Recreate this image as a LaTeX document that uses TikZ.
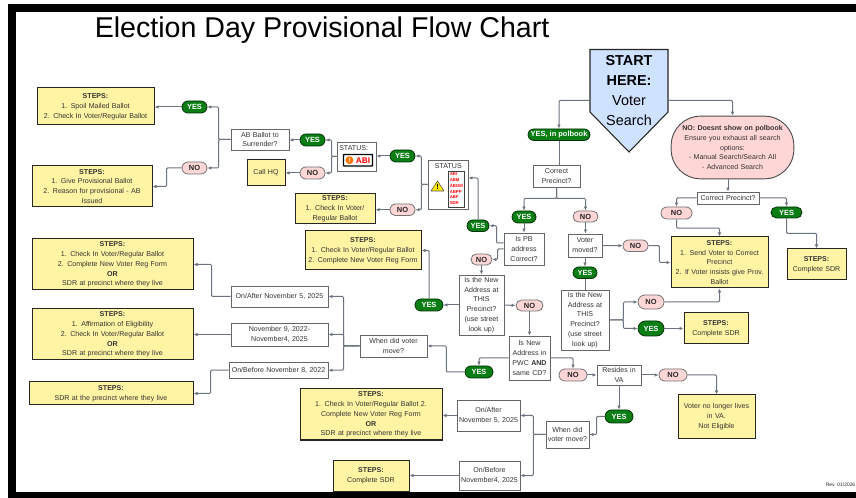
\documentclass[tikz,border=0pt]{standalone}
\usepackage{fontspec}
\setmainfont{Liberation Sans}
\usetikzlibrary{arrows.meta,shapes.misc,calc}
\definecolor{stepfill}{HTML}{FFF4A3}
\definecolor{linec}{HTML}{6B7280}
\definecolor{yesgreen}{HTML}{0A7D14}
\definecolor{nop}{HTML}{FFD6D6}
\definecolor{bodyc}{HTML}{333333}
\definecolor{startblue}{HTML}{CFE2FF}
\newcommand{\bx}[7][]{%
  \pgfmathsetmacro{\cxx}{(#4+#5)/2}\pgfmathsetmacro{\cyy}{(#6+#7)/2}%
  \pgfmathsetmacro{\wdd}{(#5-#4)*0.75}\pgfmathsetmacro{\htt}{(#7-#6)*0.75}%
  \pgfmathsetmacro{\twd}{\wdd-2}%
  \node[#1,minimum width=\wdd pt,minimum height=\htt pt,text width=\twd pt] (#2) at (\cxx,\cyy) {#3};}
\newcommand{\pill}[6]{%
  \pgfmathsetmacro{\cxx}{(#3+#4)/2}\pgfmathsetmacro{\cyy}{(#5+#6)/2}%
  \pgfmathsetmacro{\wdd}{(#4-#3)*0.75}\pgfmathsetmacro{\htt}{(#6-#5)*0.75}%
  \ifnum\pdfstrcmp{#1}{n}=0\node[nopill,minimum width=\wdd pt,minimum height=\htt pt] (#2) at (\cxx,\cyy) {NO};%
  \else\node[yespill,minimum width=\wdd pt,minimum height=\htt pt] (#2) at (\cxx,\cyy) {YES};\fi}
\tikzset{
  base/.style={inner sep=0pt,align=center,text=bodyc,font=\fontsize{5.3}{7.4}\selectfont},
  stepbox/.style={base,draw=black!85,line width=0.75pt,fill=stepfill},
  ask/.style={base,draw=black!60,line width=0.65pt,fill=white},
  yespill/.style={rounded rectangle,inner sep=0pt,draw=black!60!yesgreen,line width=0.6pt,fill=yesgreen,text=white,font=\fontsize{5.6}{6}\selectfont\bfseries},
  nopill/.style={rounded rectangle,inner sep=0pt,draw=black!55,line width=0.6pt,fill=nop,text=black!85,font=\fontsize{5.6}{6}\selectfont\bfseries},
  conn/.style={draw=linec,line width=0.75pt,rounded corners=0.8pt},
  arr/.style={conn,-{Latex[length=3pt,width=2.6pt]}},
  abitext/.style={inner sep=0pt,anchor=west,text=red,font=\fontsize{3.2}{3.4}\selectfont\bfseries}
}
\begin{document}
\begin{tikzpicture}[x=0.75pt,y=-0.75pt]
\useasboundingbox (0,0) rectangle (856,498);
\fill[white] (0,0) rectangle (856,498);
\fill[black] (8,4.5) rectangle (856,12.3);
\fill[black] (8,4.5) rectangle (15.7,498);
\fill[black] (8,492.3) rectangle (856,498);

\node[inner sep=0pt,anchor=base west,text=black,font=\fontsize{21.45}{24}\selectfont] (title) at (94.5,38) {Election Day Provisional Flow Chart};

% start shape
\draw[fill=startblue,draw=black!85,line width=0.8pt] (590,49.5) -- (668,49.5) -- (668,112) -- (629,152) -- (590,112) -- cycle;
\bx[base,font=\fontsize{10.8}{14.9}\selectfont,text=black]{start}{\textbf{START}\\\textbf{HERE:}\\Voter\\Search\\~}{590}{668}{49}{152}

\node[yespill,minimum width=46.5pt,minimum height=8.6pt] (yespoll) at (559,134.7) {YES, in polbook};
\node[base,draw=black!70,line width=0.7pt,fill=nop,rounded corners=22pt,minimum width=92pt,minimum height=47pt,text width=88pt] (nocloud) at (732.5,147.5) {\textbf{NO: Doesnt show on polbook}\\Ensure you exhaust all search\\options:\\- Manual Search/Search All\\- Advanced Search};

\bx[stepbox]{s1}{\textbf{STEPS:}\\1. Spoil Mailed Ballot\\2. Check In Voter/Regular Ballot}{37}{154}{88}{125}
\bx[stepbox]{s2}{\textbf{STEPS:}\\1. Give Provisional Ballot\\2. Reason for provisional - AB\\Issued}{32}{152}{166}{207}
\pill{y}{yesa}{182}{207}{101}{113}
\pill{n}{noa}{182}{207}{162}{174}
\bx[ask]{ab}{AB Ballot to\\Surrender?}{231}{289}{129}{150}
\pill{y}{yesb}{300}{325}{134}{146}
\pill{n}{nob}{300}{325}{167}{179}
\bx[stepbox]{hq}{Call HQ}{247}{285}{160}{186}
\bx[ask]{abi}{}{337}{376}{142}{171}
\pill{y}{yesc}{390}{415}{150}{162}
\pill{n}{noc}{390}{415}{204}{215.5}
\bx[stepbox]{s3}{\textbf{STEPS:}\\1. Check In Voter/\\Regular Ballot}{295}{375}{194}{224}
\bx[ask]{status}{}{428}{468}{160}{209}
\bx[stepbox]{s4}{\textbf{STEPS:}\\1. Check In Voter/Regular Ballot\\2. Complete New Voter Reg Form}{305}{421}{231}{270}
\pill{y}{yespb}{467}{489}{220}{231.5}
\bx[stepbox]{l1}{\textbf{STEPS:}\\1. Check In Voter/Regular Ballot\\2. Complete New Voter Reg Form\\\textbf{OR}\\SDR at precinct where they live}{32}{193}{239}{290}
\bx[stepbox]{l2}{\textbf{STEPS:}\\1. Affirmation of Eligibility\\2. Check In Voter/Regular Ballot\\\textbf{OR}\\SDR at precinct where they live}{32}{193}{309}{360}
\bx[stepbox]{l3}{\textbf{STEPS:}\\SDR at the precinct where they live}{29}{193}{382}{405}
\bx[ask]{after}{On/After November 5, 2025}{231}{328}{286}{307}
\bx[ask]{nov}{November 9, 2022-\\November4, 2025}{231}{328}{323}{346}
\bx[ask]{before}{On/Before November 8, 2022}{229}{328}{362}{378.5}
\bx[ask]{whena}{When did voter\\move?}{360}{427}{335}{357}
\bx[stepbox]{s5}{\textbf{STEPS:}\\1. Check In Voter/Regular Ballot 2.\\Complete New Voter Reg Form\\\textbf{OR}\\SDR at precinct where they live}{300}{442}{389}{440}
\bx[stepbox]{s6}{\textbf{STEPS:}\\Complete SDR}{333}{409}{460}{491}
\bx[ask]{ispb}{Is PB\\address\\Correct?}{504}{544}{233}{265}
\pill{n}{nopb}{471}{492}{254}{265}
\bx[ask]{newa}{Is the New\\Address at\\THIS\\Precinct?\\(use street\\look up)}{459}{504}{275}{335}
\pill{y}{yesd}{415}{443}{299}{311}
\pill{n}{nod}{516}{543}{300}{311}
\bx[ask]{pwc}{Is New\\Address in\\PWC \textbf{AND}\\same CD?}{509}{550}{336}{380}
\pill{y}{yese}{465}{493}{366}{378}
\pill{n}{noe}{559}{587}{369}{381}
\bx[ask]{va}{Resides in\\VA}{597}{641}{365}{385}
\pill{n}{nof}{659}{687}{369}{381}
\bx[stepbox]{gone}{Voter no longer lives\\in VA.\\Not Eligible}{678}{755}{395}{439}
\pill{y}{yesf}{605}{633}{410}{423}
\bx[ask]{whenb}{When did\\voter move?}{546}{589}{421}{448}
\bx[ask]{afterb}{On/After\\November 5, 2025}{457}{520}{400}{431}
\bx[ask]{beforeb}{On/Before\\November4, 2025}{459}{520}{461}{490}
\bx[ask]{moved}{Voter\\moved?}{568}{602}{234}{257}
\pill{n}{nog}{623}{648}{240}{251.5}
\pill{y}{yesg}{573}{597}{267}{278.5}
\bx[ask]{newb}{Is the New\\Address at\\THIS\\Precinct?\\(use street\\look up)}{561}{609}{290}{350}
\pill{n}{noh}{638}{664}{295}{309}
\pill{y}{yesh}{638}{664}{321}{336}
\bx[stepbox]{s7}{\textbf{STEPS:}\\Complete SDR}{684}{748}{313}{344}
\bx[stepbox]{send}{\textbf{STEPS:}\\1. Send Voter to Correct\\Precinct\\2. If Voter insists give Prov.\\Ballot}{671}{768}{237}{288}
\bx[stepbox]{s8}{\textbf{STEPS:}\\Complete SDR}{787}{846}{249}{280}
\bx[ask]{preca}{Correct\\Precinct?}{533}{580}{165}{187}
\pill{y}{yesi}{512}{536}{211}{223}
\pill{n}{noi}{573}{598}{211}{222}
\bx[ask]{precb}{Correct Precinct?}{697}{759}{192}{204}
\pill{n}{noj}{661}{692}{207}{219}
\pill{y}{yesj}{771}{802}{207}{218}

% ABI badge
\node[base,anchor=west,text=bodyc] (abilabel) at (339,147.7) {STATUS:};
\draw[fill=white,draw=black,line width=1pt,rounded corners=0.5pt] (343.5,154.5) rectangle (372.5,166);
\fill[orange!90!red] (349.5,160.2) circle (3.9);
\node[inner sep=0pt,text=white,font=\fontsize{4.5}{5}\selectfont\bfseries] (abimark) at (349.5,160.2) {!};
\node[inner sep=0pt,text=red,font=\fontsize{6.2}{7}\selectfont\bfseries] (abiname) at (363,160.3) {ABI};

% STATUS list
\node[base] (statuslabel) at (448.3,165.7) {STATUS};
\draw[fill=white,draw=black!75,line width=0.7pt] (448,171) rectangle (464,207);
\node[abitext] (la) at (449.5,174) {ABI};
\node[abitext] (lb) at (449.5,179.7) {ABM};
\node[abitext] (lc) at (449.5,185.7) {ABOM};
\node[abitext] (ld) at (449.5,191.7) {ABPP};
\node[abitext] (le) at (449.5,197.3) {ABF};
\node[abitext] (lf) at (449.5,203.3) {SDR};
\draw[fill=yellow!95!orange,draw=black!70,line width=0.4pt,line join=round] (437.5,181) -- (444,191) -- (431,191) -- cycle;
\node[inner sep=0pt,text=black,font=\fontsize{5.5}{6}\selectfont\bfseries] (warnmark) at (437.5,187.3) {!};

\node[inner sep=0pt,text=black!85,font=\rmfamily\fontsize{3.7}{4}\selectfont,anchor=east] (rev) at (855.5,484.7) {Rev. 01/2026};

% connectors
\draw[arr] (start.west) -| (yespoll.north);
\draw[arr] (start.east) -| (nocloud.north);
\draw[conn] (yespoll.south) -- (yespoll.south |- preca.north);
\draw[arr] (preca.south) -- ++(0,11) -| (yesi.north);
\draw[arr] (preca.south) -- ++(0,11) -| (noi.north);
\draw[arr] (yesi.south) -- (yesi.south |- ispb.north);
\draw[arr] (noi.south) -- (noi.south |- moved.north);
\draw[arr] ([yshift=4.5pt]ispb.west) -- ++(-7,0) |- (yespb.east);
\draw[arr] (ispb.west) -- ++(-6,0) |- (nopb.east);
\draw[arr] (yespb.north) |- ([yshift=4.9pt]status.east);
\draw[arr] (status.west) -- ++(-6.3,0) |- (yesc.east);
\draw[arr] (status.west) -- ++(-6.3,0) |- (noc.east);
\draw[arr] (yesc.west) -- (yesc.west -| abi.east);
\draw[arr] (noc.west) -- (noc.west -| s3.east);
\draw[arr] (abi.west) -- ++(-5,0) |- (yesb.east);
\draw[arr] (abi.west) -- ++(-5,0) |- (nob.east);
\draw[arr] (yesb.west) -- (yesb.west -| ab.east);
\draw[arr] (nob.west) -- (nob.west -| hq.east);
\draw[arr] (ab.west) -- ++(-12,0) |- (yesa.east);
\draw[arr] (ab.west) -- ++(-12,0) |- (noa.east);
\draw[arr] (yesa.west) -- (yesa.west -| s1.east);
\draw[arr] (noa.west) -- ++(-15,0) |- (s2.east);
\draw[arr] (nopb.south) -- (nopb.south |- newa.north);
\draw[arr] (newa.west) -- (yesd.east);
\draw[arr] (newa.east) -- (nod.west);
\draw[arr] (nod.south) -- (nod.south |- pwc.north);
\draw[arr] (yesd.north) |- (s4.east);
\draw[arr] (pwc.west) -| (yese.north);
\draw[arr] (pwc.east) -| (noe.north);
\draw[arr] (yese.west) -- ++(-18.3,0) |- (whena.east);
\draw[arr] (noe.east) -- (va.west |- noe.east);
\draw[arr] (va.east |- nof.west) -- (nof.west);
\draw[arr] (nof.east) -| (gone.north);
\draw[arr] (va.south -| yesf.north) -- (yesf.north);
\draw[arr] (yesf.west) -- ++(-8,0) |- (whenb.east);
\draw[arr] (whenb.west) -- ++(-12.3,0) |- (afterb.east);
\draw[arr] (whenb.west) -- ++(-12.3,0) |- (beforeb.east);
\draw[arr] (afterb.west) -- (afterb.west -| s5.east);
\draw[arr] (beforeb.west) -- (s6.east);
\draw[arr] (whena.west) -- ++(-16,0) |- (after.east);
\draw[arr] (whena.west) -- ++(-16,0) |- (nov.east);
\draw[arr] (whena.west) -- ++(-16,0) |- (before.east);
\draw[arr] (after.west) -- ++(-19,0) |- (l1.east);
\draw[arr] (nov.west) -- (l2.east);
\draw[arr] (before.west) -- ++(-18,0) |- (l3.east);
\draw[arr] (moved.east) -- (nog.west);
\draw[arr] (nog.east) -- ++(11,0) |- (send.west);
\draw[arr] (moved.south) -- (moved.south |- yesg.north);
\draw[conn] (yesg.south) -- (yesg.south |- newb.north);
\draw[arr] (newb.east) -- ++(14,0) |- (noh.west);
\draw[arr] (newb.east) -- ++(14,0) |- (yesh.west);
\draw[arr] (noh.east) -| (send.south);
\draw[arr] (yesh.east) -- (yesh.east -| s7.west);
\draw[arr] (nocloud.south -| precb.north) -- (precb.north);
\draw[arr] (precb.west) -| (noj.north);
\draw[arr] (precb.east) -| (yesj.north);
\draw[arr] (noj.south) -- ++(0,8.7) -| (send.north);
\draw[arr] (yesj.south) -- ++(0,15) -| (s8.north);
\end{tikzpicture}
\end{document}
